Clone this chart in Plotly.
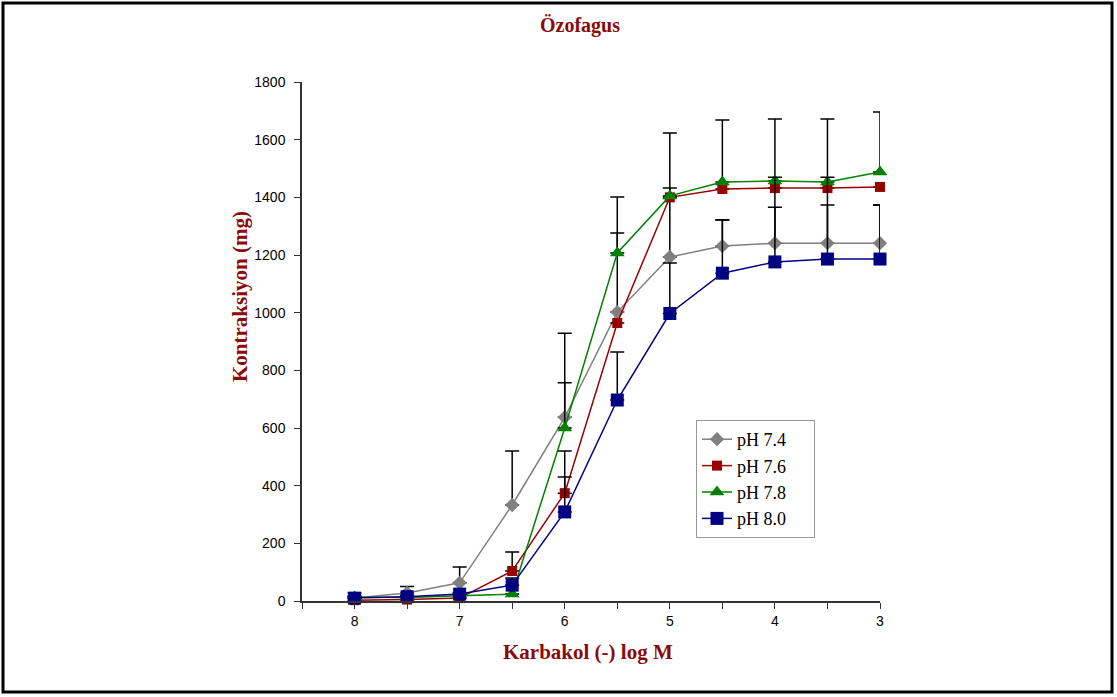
import plotly.graph_objects as go

log_conc = [8, 7.5, 7, 6.5, 6, 5.5, 5, 4.5, 4, 3.5, 3]

ph74 = [10, 28, 63, 333, 637, 1002, 1193, 1231, 1241, 1241, 1241]
ph76 = [3, 5, 10, 104, 374, 964, 1400, 1429, 1432, 1432, 1436]
ph78 = [14, 12, 18, 24, 600, 1207, 1405, 1453, 1457, 1453, 1488]
ph80 = [10, 15, 24, 55, 309, 697, 997, 1137, 1176, 1186, 1186]

err74 = [8, 22, 55, 187, 292, 274, 239, 90, 125, 132, 132]
err76 = [0, 0, 0, 66, 146, 0, 0, 0, 0, 0, 0]
err78 = [14, 5, 5, 0, 157, 194, 218, 215, 215, 219, 208]
err80 = [5, 5, 5, 25, 121, 167, 175, 185, 294, 284, 187]

series_names = ["pH 7.4", "pH 7.6", "pH 7.8", "pH 8.0"]
x_tick_vals = [8.5, 8, 7.5, 7, 6.5, 6, 5.5, 5, 4.5, 4, 3.5, 3]
x_tick_text = ["", "8", "", "7", "", "6", "", "5", "", "4", "", "3"]

DARKRED = "#8B0A0A"

styles = [
    dict(color="#808080", symbol="diamond", size=11),
    dict(color="#990000", symbol="square", size=10),
    dict(color="#008000", symbol="triangle-up", size=13),
    dict(color="#000080", symbol="square", size=13),
]

PAD = "\u00a0" * 5

fig = go.Figure()
for name, ys, errs, st in zip(series_names, [ph74, ph76, ph78, ph80],
                              [err74, err76, err78, err80], styles):
    fig.add_trace(go.Scatter(
        x=log_conc, y=ys, name=name + PAD, mode="lines+markers",
        cliponaxis=False,
        line=dict(color=st["color"], width=1.5),
        marker=dict(color=st["color"], symbol=st["symbol"], size=st["size"]),
        error_y=dict(type="data", symmetric=False, array=errs,
                     arrayminus=[0] * len(errs), color="black",
                     thickness=1.5, width=7),
    ))

ml, mr, mt, mb = 302, 237, 82, 96
W, H = 1117, 697
pw, ph = W - ml - mr, H - mt - mb

def px(xp):
    return (xp - ml) / pw

def py(yp):
    return (H - mb - yp) / ph

fig.update_layout(
    width=W, height=H,
    margin=dict(l=ml, r=mr, t=mt, b=mb),
    paper_bgcolor="white", plot_bgcolor="white",
    title=dict(text="<b>Özofagus</b>", x=580 / W, xref="container",
               y=1 - 25 / H, yref="container", xanchor="center", yanchor="middle",
               font=dict(family="Liberation Serif", size=20, color=DARKRED)),
    xaxis=dict(range=[8.5, 3], tickmode="array", tickvals=x_tick_vals,
               ticktext=x_tick_text, ticks="outside", ticklen=6,
               tickcolor="#333", showline=True, linecolor="#333", linewidth=1.5,
               showgrid=False, zeroline=False,
               tickfont=dict(family="Liberation Sans", size=14, color="black")),
    yaxis=dict(range=[0, 1800], dtick=200, ticks="outside", ticklen=6,
               tickcolor="#333", showline=True, linecolor="#333", linewidth=1.5,
               showgrid=False, zeroline=False, ticklabelstandoff=6,
               tickfont=dict(family="Liberation Sans", size=14, color="black")),
    legend=dict(x=px(696), y=py(420), xanchor="left", yanchor="top",
                bordercolor="#999999", borderwidth=1, bgcolor="white",
                font=dict(family="Liberation Serif", size=18, color="black"),
                itemwidth=30, tracegroupgap=0),
    showlegend=True,
    annotations=[
        dict(text="<b>Karbakol (-) log M</b>", xref="paper", yref="paper",
             x=px(588), y=py(652), xanchor="center", yanchor="middle",
             showarrow=False,
             font=dict(family="Liberation Serif", size=21, color=DARKRED)),
        dict(text="<b>Kontraksiyon (mg)</b>", xref="paper", yref="paper",
             x=px(240), y=py(297), xanchor="center", yanchor="middle",
             textangle=-90, showarrow=False,
             font=dict(family="Liberation Serif", size=21, color=DARKRED)),
    ],
    shapes=[dict(type="rect", xref="paper", yref="paper",
                 x0=px(3), x1=px(1112), y0=py(692), y1=py(3),
                 line=dict(color="black", width=3), fillcolor="rgba(0,0,0,0)")],
)

fig.write_html("out.html", config={"displayModeBar": False},
               post_script="document.body.style.margin='0';document.body.style.overflow='hidden';")
